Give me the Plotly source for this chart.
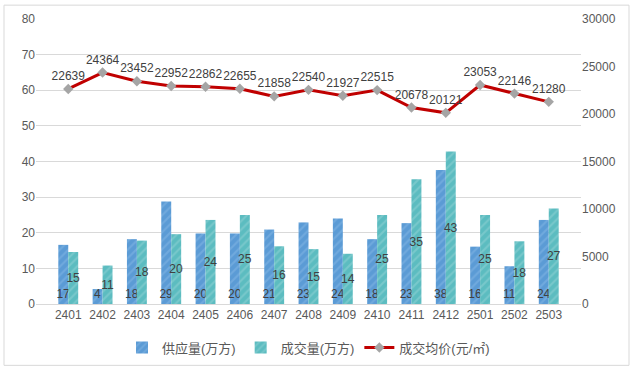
import plotly.graph_objects as go

months = ["2401","2402","2403","2404","2405","2406","2407","2408","2409","2410","2411","2412","2501","2502","2503"]
supply = [16.6, 4.2, 18.2, 28.8, 19.8, 19.8, 20.9, 22.9, 24.0, 18.2, 22.7, 37.6, 16.1, 10.6, 23.6]
deal = [14.6, 10.8, 17.8, 19.6, 23.6, 25.0, 16.2, 15.4, 14.1, 25.0, 35.0, 42.8, 25.0, 17.6, 26.8]
price = [22639, 24364, 23452, 22952, 22862, 22655, 21858, 22540, 21927, 22515, 20678, 20121, 23053, 22146, 21280]

FONT = "Liberation Sans, Noto Sans CJK SC, sans-serif"
TXT = "#404040"

fig = go.Figure()
fig.add_trace(go.Bar(
    x=months, y=supply, name="供应量(万方)",
    marker=dict(color="#5B9BD5", line=dict(width=0),
                pattern=dict(shape="/", fgcolor="#86B8E6", size=6, solidity=0.35)),
    text=[f"{v:.0f}" for v in supply], textposition="inside", insidetextanchor="start",
    textangle=0, textfont=dict(color=TXT, size=12, family=FONT), cliponaxis=False,
))
fig.add_trace(go.Bar(
    x=months, y=deal, name="成交量(万方)",
    marker=dict(color="#5CBCC0", line=dict(width=0),
                pattern=dict(shape="/", fgcolor="#93D3D5", size=6, solidity=0.35)),
    text=[f"{v:.0f}" for v in deal], textposition="inside", insidetextanchor="middle",
    textangle=0, textfont=dict(color=TXT, size=12, family=FONT),
))
fig.add_trace(go.Scatter(
    x=months, y=price, name="成交均价(元/㎡)", yaxis="y2", mode="lines+markers+text",
    line=dict(color="#C00000", width=3),
    marker=dict(symbol="diamond", color="#A5A5A5", size=8),
    text=[str(v) for v in price], textposition="top center",
    textfont=dict(color=TXT, size=12, family=FONT), cliponaxis=False,
))

fig.update_layout(
    width=633, height=374,
    margin=dict(l=36, r=52, t=19, b=67),
    paper_bgcolor="white", plot_bgcolor="white",
    font=dict(family=FONT, size=12, color="#595959"),
    barmode="group", bargap=0.42, bargroupgap=0,
    uniformtext=dict(minsize=12, mode="show"),
    showlegend=True,
    legend=dict(orientation="h", x=0.5, xanchor="center", y=-0.1, yanchor="top",
                font=dict(size=13, color="#595959"), itemwidth=30, tracegroupgap=0),
    xaxis=dict(showgrid=False, showline=True, linecolor="#D9D9D9", ticks="",
               tickfont=dict(size=12, color="#595959")),
    yaxis=dict(range=[0, 80], dtick=10, showgrid=True, gridcolor="#D9D9D9", zeroline=False,
               showline=False, ticks="", tickfont=dict(size=12, color="#595959")),
    yaxis2=dict(range=[0, 30000], dtick=5000, tickformat="d", overlaying="y", side="right",
                showgrid=False, zeroline=False, showline=False, ticks="",
                tickfont=dict(size=12, color="#595959")),
    shapes=[dict(type="rect", xref="paper", yref="paper",
                 x0=-32/545, x1=1 + 48/545, y0=-62/288, y1=1 + 14/288,
                 line=dict(color="#D9D9D9", width=1), layer="below")],
)

fig.write_html("out.html", config={"displayModeBar": False},
               post_script="document.body.style.margin='0';document.body.style.overflow='hidden';")
